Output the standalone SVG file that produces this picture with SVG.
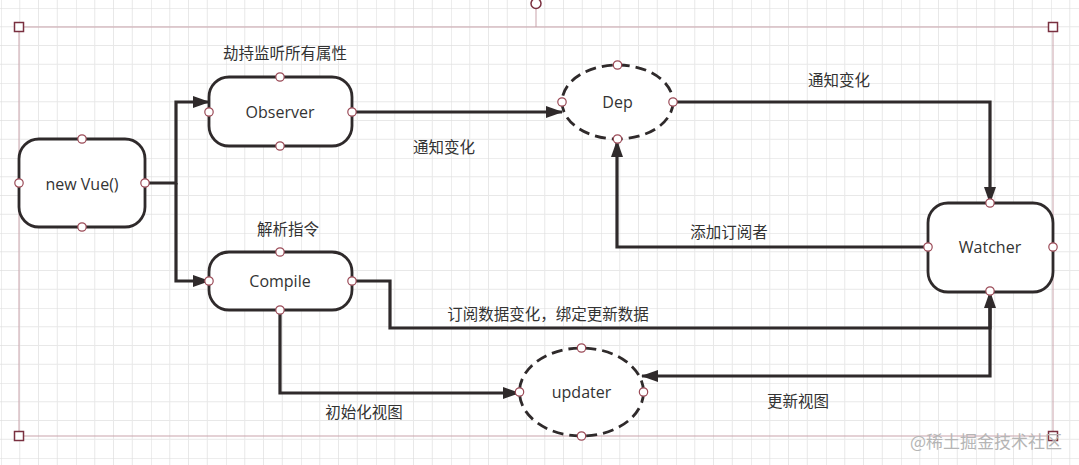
<svg xmlns="http://www.w3.org/2000/svg" width="1079" height="465" viewBox="0 0 1079 465">
<style>
.node{fill:#fff;stroke:#2f2a2b;stroke-width:2.8}
.dash{fill:#fff;stroke:#2f2a2b;stroke-width:2.8;stroke-dasharray:11 6}
.edge{fill:none;stroke:#2f2a2b;stroke-width:3.2;stroke-linejoin:miter}
.cp{fill:#fff;stroke:#9b4a57;stroke-width:1.2}
.lbl{font-family:"Open Sans","Noto Sans","Noto Sans CJK SC",sans-serif;font-size:16px;fill:#333;text-anchor:middle;dominant-baseline:central}
.cn{font-family:"Noto Sans CJK SC",sans-serif;font-size:15.5px;fill:#333;text-anchor:middle;dominant-baseline:central}
.frame{fill:none;stroke:#c9a3ab;stroke-width:1}
.handle{fill:#fff;stroke:#7a3040;stroke-width:1.5}
</style>
<defs>
<pattern id="grid" width="75" height="75" patternUnits="userSpaceOnUse" x="1" y="8">
<path d="M18.75 0V75M37.5 0V75M56.25 0V75M0 18.75H75M0 37.5H75M0 56.25H75" stroke="#e8e8e8" stroke-width="1" fill="none"/>
<path d="M0 0V75M0 0H75" stroke="#dcdcdc" stroke-width="1" fill="none"/>
</pattern>
<marker id="arr" viewBox="0 0 17 12" refX="16" refY="6" markerWidth="17" markerHeight="12" markerUnits="userSpaceOnUse" orient="auto">
<path d="M0 0L17 6L0 12z" fill="#2f2a2b"/>
</marker>
</defs>
<rect width="1079" height="465" fill="#fff"/>
<rect width="1079" height="465" fill="url(#grid)"/>

<g id="selection">
<path class="frame" d="M19 27H1053V436H19Z"/>
<line class="frame" x1="536" y1="8" x2="536" y2="27" stroke="#b07080"/>
<circle class="handle" cx="536" cy="3.5" r="5"/>
<rect class="handle" x="14.5" y="22.5" width="9" height="9"/>
<rect class="handle" x="1048.5" y="22.5" width="9" height="9"/>
<rect class="handle" x="14.5" y="431.5" width="9" height="9"/>
<rect class="handle" x="1048.5" y="431.5" width="9" height="9"/>
</g>

<g id="connectors">
<path class="edge" d="M145 183H176V102H209" marker-end="url(#arr)"/>
<path class="edge" d="M176 183V281H209" marker-end="url(#arr)"/>
<path class="edge" d="M352 112H562" marker-end="url(#arr)"/>
<path class="edge" d="M673 102H990V203" marker-end="url(#arr)"/>
<path class="edge" d="M928 247H617V141" marker-end="url(#arr)"/>
<path class="edge" d="M352 281H390V328H990V292" marker-end="url(#arr)"/>
<path class="edge" d="M990 300V376H642" marker-end="url(#arr)"/>
<path class="edge" d="M280 310V393H519" marker-end="url(#arr)"/>
<text class="cn" x="285" y="52">劫持监听所有属性</text>
<text class="cn" x="288" y="228">解析指令</text>
<text class="cn" x="444" y="146">通知变化</text>
<text class="cn" x="839" y="79">通知变化</text>
<text class="cn" x="729" y="231">添加订阅者</text>
<text class="cn" x="548" y="313">订阅数据变化，绑定更新数据</text>
<text class="cn" x="364" y="411">初始化视图</text>
<text class="cn" x="798" y="400">更新视图</text>
</g>

<g id="newvue">
<rect class="node" x="19" y="139" width="126" height="88" rx="20"/>
<text class="lbl" x="82" y="184">new Vue()</text>
<circle class="cp" cx="82" cy="139" r="4.2"/>
<circle class="cp" cx="82" cy="227" r="4.2"/>
<circle class="cp" cx="19" cy="183" r="4.2"/>
<circle class="cp" cx="145" cy="183" r="4.2"/>
</g>

<g id="observer">
<rect class="node" x="209" y="77" width="143" height="69" rx="20"/>
<text class="lbl" x="280" y="112">Observer</text>
<circle class="cp" cx="280" cy="77" r="4.2"/>
<circle class="cp" cx="280" cy="146" r="4.2"/>
<circle class="cp" cx="209" cy="112" r="4.2"/>
<circle class="cp" cx="352" cy="112" r="4.2"/>
</g>

<g id="compile">
<rect class="node" x="209" y="252" width="143" height="58" rx="20"/>
<text class="lbl" x="280" y="281">Compile</text>
<circle class="cp" cx="280" cy="252" r="4.2"/>
<circle class="cp" cx="280" cy="310" r="4.2"/>
<circle class="cp" cx="209" cy="281" r="4.2"/>
<circle class="cp" cx="352" cy="281" r="4.2"/>
</g>

<g id="dep">
<ellipse class="dash" cx="617.5" cy="102" rx="55.5" ry="37"/>
<text class="lbl" x="617.5" y="102">Dep</text>
<circle class="cp" cx="617.5" cy="65" r="4.2"/>
<circle class="cp" cx="617.5" cy="139" r="4.2"/>
<circle class="cp" cx="562" cy="102" r="4.2"/>
<circle class="cp" cx="673" cy="102" r="4.2"/>
</g>

<g id="watcher">
<rect class="node" x="928" y="203" width="125" height="89" rx="20"/>
<text class="lbl" x="990" y="247">Watcher</text>
<circle class="cp" cx="990" cy="203" r="4.2"/>
<circle class="cp" cx="990" cy="291" r="4.2"/>
<circle class="cp" cx="928" cy="247" r="4.2"/>
<circle class="cp" cx="1053" cy="247" r="4.2"/>
</g>

<g id="updater">
<ellipse class="dash" cx="581.5" cy="392" rx="62" ry="44"/>
<text class="lbl" x="581.5" y="392">updater</text>
<circle class="cp" cx="581.5" cy="348" r="4.2"/>
<circle class="cp" cx="581.5" cy="436" r="4.2"/>
<circle class="cp" cx="519.5" cy="392" r="4.2"/>
<circle class="cp" cx="643.5" cy="392" r="4.2"/>
</g>

<text x="1062" y="440" font-family="Noto Sans CJK SC,sans-serif" font-size="17" fill="#b5b5b5" text-anchor="end" dominant-baseline="central">@稀土掘金技术社区</text>
</svg>
